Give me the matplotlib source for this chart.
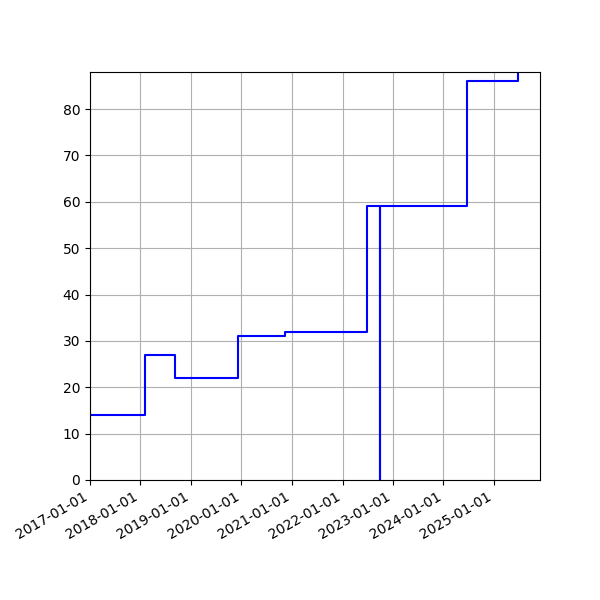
import matplotlib
matplotlib.use("Agg")
import matplotlib.pyplot as plt
import matplotlib.dates as mdates
import numpy as np

### values (change dates and counts)
dates = np.array(["2017-01-01", "2018-02-02", "2018-09-07", "2019-12-06",
                  "2020-11-10", "2022-06-25", "2022-09-28", "2022-09-29",
                  "2024-06-19", "2025-06-23", "2025-11-29"],
                 dtype="datetime64[D]")
counts = [14, 27, 22, 31, 32, 59, -5, 59, 86, 95, 95]

fig, ax = plt.subplots(figsize=(6, 6), dpi=100)
fig.subplots_adjust(left=0.15, right=0.9, top=0.88)

ax.plot(dates.astype("O"), counts, drawstyle="steps-post", color="blue")
ax.xaxis.set_major_locator(mdates.YearLocator())
ax.xaxis.set_major_formatter(mdates.DateFormatter("%Y-%m-%d"))
ax.set_xlim(dates[0].astype("O"), dates[-1].astype("O"))
ax.set_ylim(0, 88)
ax.grid(True)
fig.autofmt_xdate()

fig.savefig("out.png")
